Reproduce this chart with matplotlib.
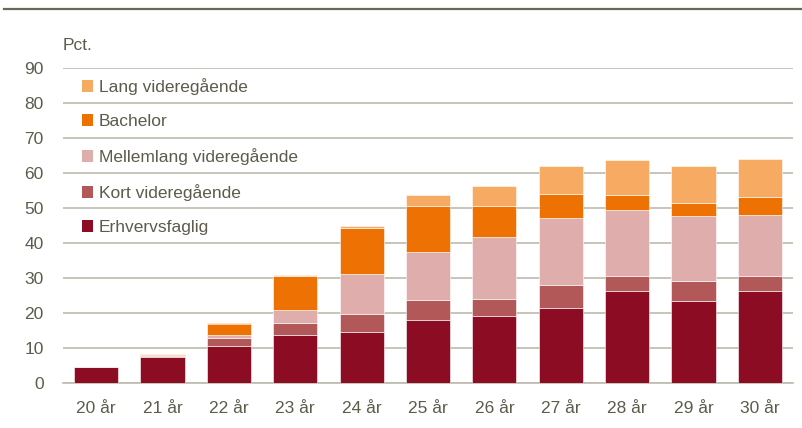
import matplotlib.pyplot as plt
from matplotlib.patches import Patch
from matplotlib.lines import Line2D

plt.rcParams['font.family'] = ['Liberation Sans', 'DejaVu Sans']

ages = ["20 år", "21 år", "22 år", "23 år", "24 år", "25 år",
        "26 år", "27 år", "28 år", "29 år", "30 år"]

erhvervsfaglig = [4.6, 7.3, 10.7, 13.7, 14.7, 18.1, 19.1, 21.3, 26.4, 23.4, 26.4]
kort = [0.1, 0.4, 2.2, 3.5, 5.1, 5.7, 5.0, 6.6, 4.1, 5.8, 4.3]
mellemlang = [0.1, 0.3, 0.7, 3.7, 11.3, 13.7, 17.6, 19.2, 19.0, 18.6, 17.2]
bachelor = [0.2, 0.3, 3.4, 9.8, 13.3, 13.0, 8.8, 6.8, 4.3, 3.6, 5.2]
lang = [0.0, 0.1, 0.1, 0.2, 0.5, 3.3, 5.9, 8.2, 9.8, 10.5, 11.0]

series = [
    ("Erhvervsfaglig", erhvervsfaglig, "#8b0c23"),
    ("Kort videregående", kort, "#b35859"),
    ("Mellemlang videregående", mellemlang, "#dfadab"),
    ("Bachelor", bachelor, "#ee7203"),
    ("Lang videregående", lang, "#f6aa62"),
]

text_col = "#5c5b4c"
grid_col = "#bdbbae"

fig = plt.figure(figsize=(8.02, 4.28), dpi=100)
ax = fig.add_axes([63 / 802, 45 / 428, 730 / 802, 315 / 428])

x = range(len(ages))
bottom = [0.0] * len(ages)
for name, vals, col in series:
    ax.bar(x, vals, width=0.665, bottom=bottom, color=col,
           edgecolor="white", linewidth=0.4, zorder=3)
    bottom = [b + v for b, v in zip(bottom, vals)]

ax.set_xlim(-0.5, 10.5)
ax.set_ylim(0, 90)
ax.set_yticks(range(0, 91, 10))
ax.set_xticks(list(x))
ax.set_xticklabels(ages)
ax.yaxis.grid(True, color=grid_col, linewidth=1.2, zorder=0)
ax.set_axisbelow(True)
for s in ["top", "right", "left"]:
    ax.spines[s].set_visible(False)
ax.spines["bottom"].set_color(grid_col)
ax.spines["bottom"].set_linewidth(1.2)
ax.tick_params(axis="both", length=0, labelsize=12.5, colors=text_col)
ax.tick_params(axis="y", pad=14)
ax.tick_params(axis="x", pad=13)

handles = [Patch(facecolor=col, edgecolor="none", label=name)
           for name, vals, col in reversed(series)]
leg = ax.legend(handles=handles, loc="upper left", bbox_to_anchor=(0.016, 0.99),
                frameon=False, fontsize=12.5, handlelength=0.65, handleheight=0.65,
                handletextpad=0.35, labelspacing=1.1, borderaxespad=0)
for t in leg.get_texts():
    t.set_color(text_col)

fig.text(63 / 802, 1 - 45 / 428, "Pct.", fontsize=12.5, color=text_col,
         va="center", ha="left")
fig.add_artist(Line2D([4 / 802, 1], [1 - 9 / 428, 1 - 9 / 428],
                      color="#6b6856", linewidth=1.6))

fig.savefig("out.png", dpi=100)
